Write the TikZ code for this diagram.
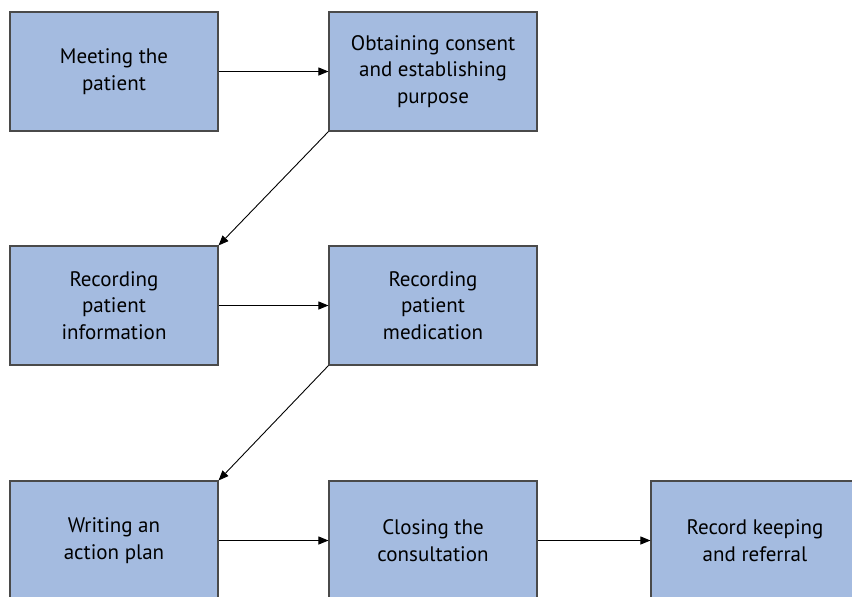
\documentclass[tikz,border=0pt]{standalone}
\usepackage{fontspec}
\setmainfont{PT Sans}
\usetikzlibrary{arrows.meta}
\definecolor{boxfill}{HTML}{A4BBE0}
\definecolor{boxline}{HTML}{4A4A4A}
\tikzset{
  stepbox/.style={draw=boxline, line width=1.1pt, fill=boxfill, minimum width=208pt, minimum height=119pt, inner sep=0pt, align=center, font=\fontsize{21}{26.5}\selectfont, text=black},
  conn/.style={line width=0.9pt, -{Triangle[length=10pt,width=8pt]}}
}
\begin{document}
\begin{tikzpicture}[x=1pt,y=-1pt]
\useasboundingbox (0,0) rectangle (852,597);
\clip (0,0) rectangle (852,597);
\node[stepbox] (meet) at (114,71.5) {Meeting the\\patient};
\node[stepbox] (consent) at (433,71.5) {Obtaining consent\\and establishing\\purpose};
\node[stepbox] (recinfo) at (114,305.5) {Recording\\patient\\information};
\node[stepbox] (recmed) at (433,305.5) {Recording\\patient\\medication};
\node[stepbox] (plan) at (114,540.5) {Writing an\\action plan};
\node[stepbox] (close) at (433,540.5) {Closing the\\consultation};
\node[stepbox] (record) at (755,540.5) {Record keeping\\and referral};
\draw[conn] (meet.east) -- (consent.west);
\draw[conn] (consent.south west) -- (recinfo.north east);
\draw[conn] (recinfo.east) -- (recmed.west);
\draw[conn] (recmed.south west) -- (plan.north east);
\draw[conn] (plan.east) -- (close.west);
\draw[conn] (close.east) -- (record.west);
\end{tikzpicture}
\end{document}
